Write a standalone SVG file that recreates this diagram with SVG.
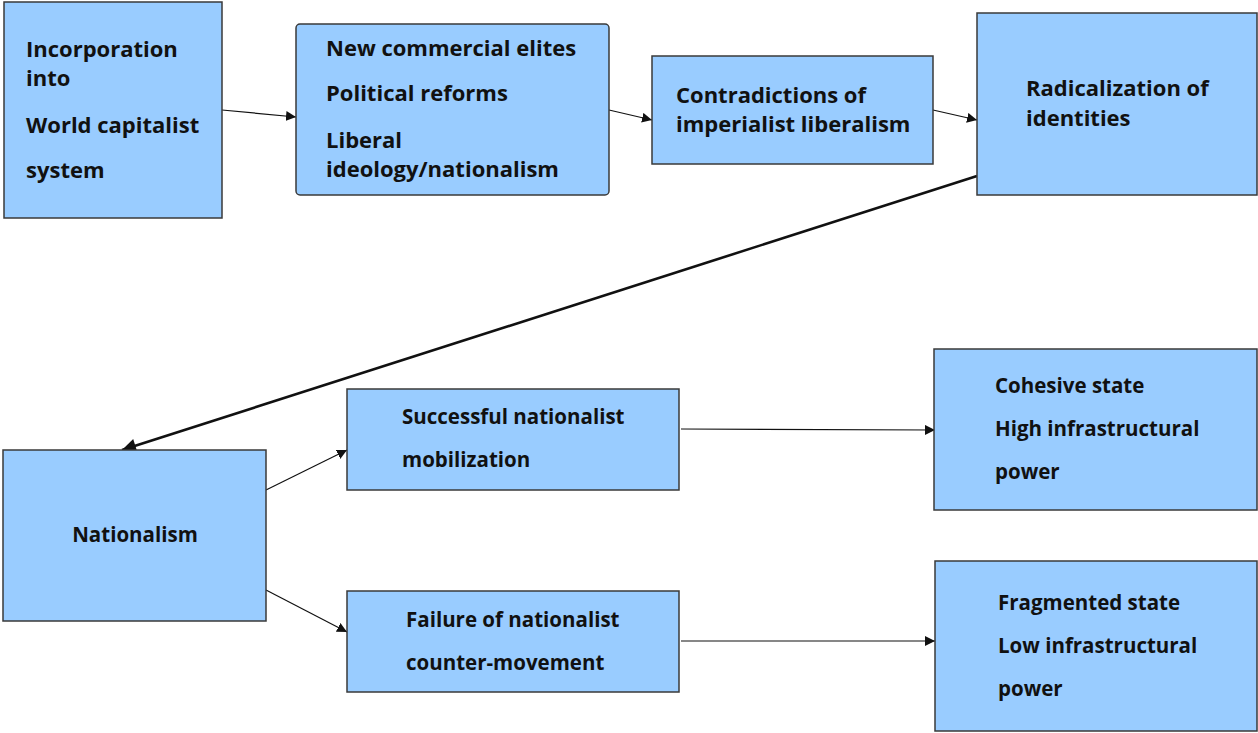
<svg xmlns="http://www.w3.org/2000/svg" width="1258" height="733" viewBox="0 0 1258 733">
<defs>
<style>
.box{fill:#99CCFF;stroke:#3a3a3a;stroke-width:1.5}
.t{font-family:"Open Sans",Lato,"Liberation Sans",sans-serif;font-weight:bold;fill:#111}
.l{font-size:22px}
.s{font-size:20.5px}
.c{fill:none;stroke:#111;stroke-width:1.2}
.ct{fill:none;stroke:#111;stroke-width:2.6}
</style>
<marker id="a" viewBox="0 0 10 10" refX="10" refY="5" markerWidth="10" markerHeight="10" markerUnits="userSpaceOnUse" orient="auto"><path d="M0,0 L10,5 L0,10 z" fill="#111"/></marker>
<marker id="ab" viewBox="0 0 10 10" refX="10" refY="5" markerWidth="16" markerHeight="14" markerUnits="userSpaceOnUse" orient="auto"><path d="M0,0 L10,5 L0,10 z" fill="#111"/></marker>
</defs>
<rect width="1258" height="733" fill="#fff"/>
<g id="connectors">
<line class="c" x1="222" y1="110" x2="296" y2="117" marker-end="url(#a)"/>
<line class="c" x1="609" y1="110" x2="652" y2="120" marker-end="url(#a)"/>
<line class="c" x1="933" y1="110" x2="977" y2="120" marker-end="url(#a)"/>
<line class="ct" x1="977" y1="176" x2="122" y2="450" marker-end="url(#ab)"/>
<line class="c" x1="266" y1="490" x2="347" y2="450" marker-end="url(#a)"/>
<line class="c" x1="266" y1="590" x2="347" y2="632" marker-end="url(#a)"/>
<line class="c" x1="681" y1="429" x2="935" y2="430" marker-end="url(#a)"/>
<line class="c" x1="681" y1="641" x2="935" y2="641" marker-end="url(#a)"/>
</g>
<g id="incorporation">
<rect class="box" x="4" y="2" width="218" height="216"/>
<text class="t l" x="26" y="57">Incorporation</text>
<text class="t l" x="26" y="86">into</text>
<text class="t l" x="26" y="133">World capitalist</text>
<text class="t l" x="26" y="178">system</text>
</g>
<g id="elites">
<rect class="box" x="296" y="24" width="313" height="171" rx="4"/>
<text class="t l" x="326" y="56">New commercial elites</text>
<text class="t l" x="326" y="101">Political reforms</text>
<text class="t l" x="326" y="148">Liberal</text>
<text class="t l" x="326" y="177">ideology/nationalism</text>
</g>
<g id="contradictions">
<rect class="box" x="652" y="56" width="281" height="108"/>
<text class="t l" x="676" y="103">Contradictions of</text>
<text class="t l" x="676" y="132">imperialist liberalism</text>
</g>
<g id="radicalization">
<rect class="box" x="977" y="13" width="280" height="182"/>
<text class="t l" x="1026" y="96">Radicalization of</text>
<text class="t l" x="1026" y="126">identities</text>
</g>
<g id="nationalism">
<rect class="box" x="3" y="450" width="263" height="171"/>
<text class="t s" x="135" y="542" text-anchor="middle">Nationalism</text>
</g>
<g id="successful">
<rect class="box" x="347" y="389" width="332" height="101"/>
<text class="t s" x="402" y="424">Successful nationalist</text>
<text class="t s" x="402" y="467">mobilization</text>
</g>
<g id="failure">
<rect class="box" x="347" y="591" width="332" height="101"/>
<text class="t s" x="406" y="627">Failure of nationalist</text>
<text class="t s" x="406" y="670">counter-movement</text>
</g>
<g id="cohesive">
<rect class="box" x="934" y="349" width="323" height="161"/>
<text class="t s" x="995" y="393">Cohesive state</text>
<text class="t s" x="995" y="436">High infrastructural</text>
<text class="t s" x="995" y="479">power</text>
</g>
<g id="fragmented">
<rect class="box" x="935" y="561" width="322" height="170"/>
<text class="t s" x="998" y="610">Fragmented state</text>
<text class="t s" x="998" y="653">Low infrastructural</text>
<text class="t s" x="998" y="696">power</text>
</g>
</svg>
